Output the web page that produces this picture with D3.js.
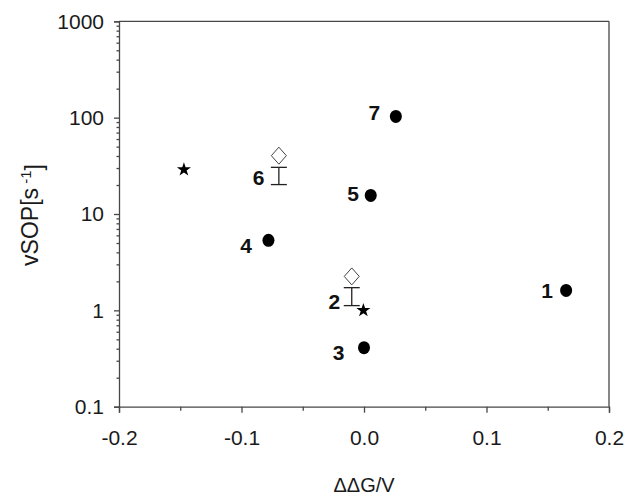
<!DOCTYPE html>
<html>
<head>
<meta charset="utf-8">
<script src="https://cdn.jsdelivr.net/npm/d3@7"></script>
<style>
  body { margin: 0; background: #fff; }
  text { font-family: "Liberation Sans", Arial, sans-serif; }
</style>
</head>
<body>
<script>
// size of the page
var width = 636;
var height = 504;

// filled circles, numbered compounds
var circleIds = ["1", "3", "4", "5", "7"];
var circleX = [0.165, 0.0, -0.078, 0.0055, 0.026];
var circleY = [1.61, 0.41, 5.33, 15.6, 103];

// stars
var starX = [-0.147, -0.0005];
var starY = [28.9, 1.0];

// open diamonds
var diamondX = [-0.0695, -0.01];
var diamondY = [40.3, 2.25];

// error bars (low / high)
var barX = [-0.0695, -0.01];
var barLow = [20.2, 1.12];
var barHigh = [30.5, 1.72];

// number labels, placed in data units
var labelText = ["1", "2", "3", "4", "5", "6", "7"];
var labelX = [0.1494, -0.0242, -0.0207, -0.0963, -0.009, -0.086, 0.0084];
var labelY = [1.61, 1.24, 0.366, 4.77, 16.3, 24.0, 113.5];

// ticks
var xTicks = [-0.2, -0.1, 0.0, 0.1, 0.2];
var xMinor = [-0.15, -0.05, 0.05, 0.15];
var yTicks = [0.1, 1, 10, 100, 1000];

var svg = d3.select("body")
    .append("svg")
    .attr("width", width)
    .attr("height", height);

var x = d3.scaleLinear()
    .domain([-0.2, 0.2])
    .range([119, 609]);

var y = d3.scaleLog()
    .domain([0.1, 1000])
    .range([406.7, 21.3]);

// minor log ticks 2..9 in each decade
var yMinor = [];
for (var d = 0.1; d < 1000; d *= 10) {
    for (var k = 2; k <= 9; k++) yMinor.push(+(d * k).toPrecision(3));
}

var axisColor = "#474747";

// box: top and right lines
svg.append("line")
    .attr("x1", x(-0.2)).attr("x2", x(0.2))
    .attr("y1", y(1000)).attr("y2", y(1000))
    .style("stroke", axisColor).style("stroke-width", 1.3);
svg.append("line")
    .attr("x1", x(0.2)).attr("x2", x(0.2))
    .attr("y1", y(1000)).attr("y2", y(0.1))
    .style("stroke", axisColor).style("stroke-width", 1.3);

// hyphen minus like the original figure
var fmtX = function(d) { return d.toFixed(1).replace("\u2212", "-"); };

// x axis
svg.append("g")
    .attr("transform", "translate(0," + y(0.1) + ")")
    .call(d3.axisBottom(x)
        .tickValues(xTicks)
        .tickSize(6)
        .tickPadding(17)
        .tickFormat(fmtX));

svg.append("g")
    .attr("transform", "translate(0," + y(0.1) + ")")
    .call(d3.axisBottom(x).tickValues(xMinor).tickSize(4).tickFormat(""))
    .select(".domain").remove();

// y axis
svg.append("g")
    .attr("transform", "translate(" + x(-0.2) + ",0)")
    .call(d3.axisLeft(y)
        .tickValues(yTicks)
        .tickSize(5)
        .tickPadding(10)
        .tickFormat(function(d) { return d < 1 ? "0.1" : String(Math.round(d)); }));

svg.append("g")
    .attr("transform", "translate(" + x(-0.2) + ",0)")
    .call(d3.axisLeft(y).tickValues(yMinor).tickSize(2.5).tickFormat(""))
    .select(".domain").remove();

svg.selectAll(".domain, .tick line")
    .style("stroke", axisColor)
    .style("stroke-width", 1.3);

svg.selectAll(".tick text")
    .style("font-size", "21px")
    .style("fill", "#1a1a1a");

// axis titles
svg.append("text")
    .attr("x", x(0))
    .attr("y", 492)
    .attr("text-anchor", "middle")
    .style("font-size", "20px")
    .style("fill", "#1a1a1a")
    .text("ΔΔG/V");

var yTitle = svg.append("text")
    .attr("transform", "translate(38,215) rotate(-90)")
    .attr("text-anchor", "middle")
    .style("font-size", "23px")
    .style("fill", "#1a1a1a");
yTitle.append("tspan").text("vSOP[s");
yTitle.append("tspan").attr("dy", "-0.5em").style("font-size", "15px").text(" -1");
yTitle.append("tspan").attr("dy", "0.5em").text("]");

// error bars
var capW = 8;
var bars = svg.append("g")
    .selectAll("g")
    .data(barX.map(function(v, i) { return {x: v, lo: barLow[i], hi: barHigh[i]}; }))
    .enter().append("g")
    .style("stroke", "#222")
    .style("stroke-width", 1.3);
bars.append("line")
    .attr("x1", function(d) { return x(d.x); })
    .attr("x2", function(d) { return x(d.x); })
    .attr("y1", function(d) { return y(d.lo); })
    .attr("y2", function(d) { return y(d.hi); });
bars.append("line")
    .attr("x1", function(d) { return x(d.x) - capW; })
    .attr("x2", function(d) { return x(d.x) + capW; })
    .attr("y1", function(d) { return y(d.lo); })
    .attr("y2", function(d) { return y(d.lo); });
bars.append("line")
    .attr("x1", function(d) { return x(d.x) - capW; })
    .attr("x2", function(d) { return x(d.x) + capW; })
    .attr("y1", function(d) { return y(d.hi); })
    .attr("y2", function(d) { return y(d.hi); });

// open diamonds
svg.append("g")
    .selectAll("path")
    .data(diamondX.map(function(v, i) { return [v, diamondY[i]]; }))
    .enter().append("path")
    .attr("transform", function(d) { return "translate(" + x(d[0]) + "," + y(d[1]) + ")"; })
    .attr("d", "M0,-8.5L7.5,0L0,8.5L-7.5,0Z")
    .style("fill", "#fff")
    .style("stroke", "#444")
    .style("stroke-width", 1);

// stars
svg.append("g")
    .selectAll("path")
    .data(starX.map(function(v, i) { return [v, starY[i]]; }))
    .enter().append("path")
    .attr("transform", function(d) { return "translate(" + x(d[0]) + "," + y(d[1]) + ")"; })
    .attr("d", d3.symbol().type(d3.symbolStar).size(62))
    .style("fill", "#000");

// filled circles
svg.append("g")
    .selectAll("ellipse")
    .data(circleX.map(function(v, i) { return [v, circleY[i]]; }))
    .enter().append("ellipse")
    .attr("cx", function(d) { return x(d[0]); })
    .attr("cy", function(d) { return y(d[1]); })
    .attr("rx", 6)
    .attr("ry", 6.5)
    .style("fill", "#000");

// number labels
svg.append("g")
    .selectAll("text")
    .data(labelText.map(function(t, i) { return {t: t, x: labelX[i], y: labelY[i]}; }))
    .enter().append("text")
    .attr("x", function(d) { return x(d.x); })
    .attr("y", function(d) { return y(d.y); })
    .attr("dy", "0.36em")
    .attr("text-anchor", "middle")
    .style("font-size", "21px")
    .style("font-weight", "bold")
    .style("fill", "#111")
    .text(function(d) { return d.t; });
</script>
</body>
</html>
